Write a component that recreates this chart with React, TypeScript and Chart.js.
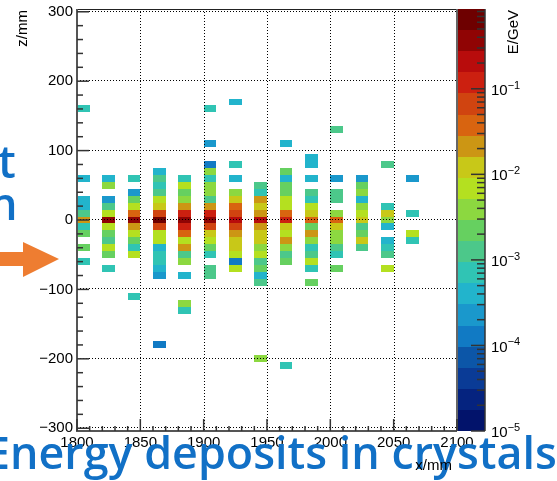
import React, { useEffect, useRef } from 'react';
import { Chart, registerables } from 'chart.js';

Chart.register(...registerables);

type Cell = [number, number]; // [z centre (mm), deposited energy (GeV)]

// crystal columns: x low edge (mm)
const columnX = [1800, 1820, 1840, 1860, 1880, 1900, 1920, 1940, 1960, 1980, 2000, 2020, 2040, 2060];

const col1800: Cell[] = [[160, 7.1e-4], [60, 4.0e-4], [30, 4.0e-4], [20, 4.0e-4], [10, 1.25e-3], [0, 2.1e-2], [-10, 7.1e-4], [-20, 2.2e-3], [-40, 2.2e-3], [-60, 7.1e-4]];
const col1820: Cell[] = [[60, 4.0e-4], [50, 3.9e-3], [30, 2.3e-4], [20, 1.25e-3], [10, 6.9e-3], [0, 0.37], [-10, 6.9e-3], [-20, 2.2e-3], [-30, 1.25e-3], [-40, 6.9e-3], [-50, 2.2e-3], [-70, 7.1e-4]];
const col1840: Cell[] = [[60, 7.1e-4], [40, 2.3e-4], [30, 2.2e-3], [20, 6.9e-3], [10, 3.8e-2], [0, 0.37], [-10, 2.1e-2], [-20, 6.9e-3], [-30, 2.2e-3], [-40, 7.1e-4], [-50, 6.9e-3], [-110, 7.1e-4]];
const col1860: Cell[] = [[70, 4.0e-4], [60, 1.25e-3], [50, 7.1e-4], [40, 1.25e-3], [30, 6.9e-3], [20, 1.2e-2], [10, 6.6e-2], [0, 0.65], [-10, 6.6e-2], [-20, 6.9e-3], [-30, 6.9e-3], [-40, 4.0e-4], [-50, 7.1e-4], [-60, 7.1e-4], [-70, 4.0e-4], [-80, 2.3e-4], [-180, 1.3e-4]];
const col1880: Cell[] = [[60, 7.1e-4], [50, 6.9e-3], [40, 2.2e-3], [30, 3.9e-3], [20, 2.1e-2], [10, 0.117], [0, 0.37], [-10, 0.117], [-20, 3.8e-2], [-30, 6.9e-3], [-40, 2.1e-2], [-50, 1.25e-3], [-60, 3.9e-3], [-80, 4.0e-4], [-120, 3.9e-3], [-130, 7.1e-4]];
const col1900: Cell[] = [[160, 7.1e-4], [110, 2.3e-4], [80, 1.3e-4], [70, 3.9e-3], [60, 7.1e-4], [50, 3.9e-3], [40, 3.9e-3], [30, 1.25e-3], [20, 2.1e-2], [10, 0.117], [0, 0.37], [-10, 6.6e-2], [-20, 1.2e-2], [-30, 6.9e-3], [-40, 2.2e-3], [-50, 7.1e-4], [-70, 1.25e-3], [-80, 1.25e-3]];
const col1920: Cell[] = [[170, 4.0e-4], [80, 7.1e-4], [60, 4.0e-4], [40, 3.9e-3], [30, 1.2e-2], [20, 3.8e-2], [10, 6.6e-2], [0, 0.21], [-10, 6.6e-2], [-20, 2.1e-2], [-30, 1.2e-2], [-40, 1.2e-2], [-50, 6.9e-3], [-60, 1.3e-4], [-70, 6.9e-3]];
const col1940: Cell[] = [[50, 1.25e-3], [40, 7.1e-4], [30, 2.1e-2], [20, 1.2e-2], [10, 2.1e-2], [0, 0.21], [-10, 2.1e-2], [-20, 1.2e-2], [-30, 1.2e-2], [-40, 3.9e-3], [-50, 6.9e-3], [-60, 1.25e-3], [-70, 2.2e-3], [-80, 4.0e-4], [-90, 1.25e-3], [-200, 3.9e-3]];
const col1960: Cell[] = [[110, 4.0e-4], [70, 2.2e-3], [60, 4.0e-4], [50, 2.2e-3], [40, 2.2e-3], [30, 6.9e-3], [20, 6.9e-3], [10, 3.8e-2], [0, 0.117], [-10, 1.2e-2], [-20, 6.9e-3], [-30, 2.1e-2], [-40, 3.9e-3], [-50, 1.25e-3], [-60, 2.2e-3], [-210, 7.1e-4]];
const col1980: Cell[] = [[90, 4.0e-4], [80, 4.0e-4], [60, 4.0e-4], [40, 1.25e-3], [30, 7.1e-4], [20, 6.9e-3], [10, 1.2e-2], [0, 3.8e-2], [-10, 2.2e-3], [-20, 2.1e-2], [-30, 3.9e-3], [-40, 7.1e-4], [-50, 1.25e-3], [-60, 6.9e-3], [-70, 7.1e-4], [-90, 2.2e-3]];
const col2000: Cell[] = [[130, 1.25e-3], [60, 2.3e-4], [40, 1.25e-3], [30, 1.25e-3], [10, 3.9e-3], [0, 3.8e-2], [-10, 1.2e-2], [-20, 3.9e-3], [-30, 3.9e-3], [-40, 1.25e-3], [-50, 7.1e-4], [-70, 2.2e-3]];
const col2020: Cell[] = [[60, 2.3e-4], [50, 2.2e-3], [40, 3.9e-3], [30, 4.0e-4], [20, 3.9e-3], [10, 6.9e-3], [0, 1.2e-2], [-10, 1.25e-3], [-20, 2.2e-3], [-30, 1.2e-2], [-40, 1.25e-3]];
const col2040: Cell[] = [[80, 1.25e-3], [20, 7.1e-4], [10, 1.2e-2], [0, 3.9e-3], [-10, 4.0e-4], [-30, 4.0e-4], [-40, 7.1e-4], [-50, 1.25e-3], [-70, 6.9e-3]];
const col2060: Cell[] = [[60, 2.3e-4], [10, 7.1e-4], [-20, 6.9e-3], [-30, 7.1e-4]];

const columnCells = [col1800, col1820, col1840, col1860, col1880, col1900, col1920, col1940, col1960, col1980, col2000, col2020, col2040, col2060];

const colorTickValues = [1e-5, 1e-4, 1e-3, 1e-2, 1e-1];
const colorTickExponents = ['\u22125', '\u22124', '\u22123', '\u22122', '\u22121'];

const X_MIN = 1800, X_MAX = 2100, Z_MIN = -304, Z_MAX = 304, E_MIN = 1e-5, E_MAX = 0.856;
const BIN_X = 10, BIN_Z = 10;

const PALETTE = ['#02136b', '#05237f', '#0a3b96', '#0c56a8', '#117ac4', '#1a98cc', '#22b4cc', '#30c4b4', '#4cc88a', '#66d060',
  '#8cd840', '#b4e020', '#c8c818', '#cc9614', '#d86410', '#d04410', '#cc2010', '#b80c0c', '#900404', '#6e0000'];

const TITLE = 'Energy deposits in crystals';
const BLUE = '#1170c6';
const ORANGE = '#ee7d31';
const FONT = "'Liberation Sans', Arial, sans-serif";
const OVER_FONT = "600 45px 'Open Sans', 'Noto Sans', sans-serif";

const fmtZ = (v: number) => (v < 0 ? '\u2212' + Math.abs(v) : String(v));

const heatmapPlugin = {
  id: 'heatmap',
  afterDatasetsDraw(chart: any) {
    const ctx: CanvasRenderingContext2D = chart.ctx;
    const a = chart.chartArea;
    const xs = chart.scales.x, ys = chart.scales.y, cs = chart.scales.c;
    const lmin = Math.log10(E_MIN), lmax = Math.log10(E_MAX);
    const n = PALETTE.length;
    const bandOf = (e: number) => Math.max(0, Math.min(n - 1, Math.floor(((Math.log10(e) - lmin) / (lmax - lmin)) * n)));
    const line = (x0: number, y0: number, x1: number, y1: number) => { ctx.beginPath(); ctx.moveTo(x0, y0); ctx.lineTo(x1, y1); ctx.stroke(); };

    ctx.save();
    // cells
    for (const p of chart.data.datasets[0].data) {
      const x0 = Math.round(xs.getPixelForValue(p.x));
      const x1 = Math.round(xs.getPixelForValue(p.x + BIN_X));
      const y0 = Math.round(ys.getPixelForValue(p.y + BIN_Z / 2));
      const y1 = Math.round(ys.getPixelForValue(p.y - BIN_Z / 2));
      ctx.fillStyle = PALETTE[bandOf(p.e)];
      ctx.fillRect(x0, y0, x1 - x0, y1 - y0);
    }

    // dotted grid
    ctx.strokeStyle = '#000';
    ctx.lineWidth = 1;
    ctx.setLineDash([1, 2]);
    ctx.beginPath();
    for (const t of xs.ticks) {
      if (t.value % 50 !== 0 || t.value <= X_MIN || t.value >= X_MAX) continue;
      const px = Math.round(xs.getPixelForValue(t.value)) + 0.5;
      ctx.moveTo(px, a.top); ctx.lineTo(px, a.bottom);
    }
    for (const t of ys.ticks) {
      if (t.value % 100 !== 0) continue;
      const py = Math.round(ys.getPixelForValue(t.value)) - 0.5;
      ctx.moveTo(a.left, py); ctx.lineTo(a.right, py);
    }
    ctx.stroke();
    ctx.setLineDash([]);

    // frame
    ctx.strokeStyle = '#222';
    ctx.lineWidth = 1.2;
    line(a.left, a.top + 0.5, a.right, a.top + 0.5);
    ctx.strokeStyle = '#666';
    ctx.lineWidth = 2;
    line(a.right, a.top, a.right, a.bottom);
    ctx.strokeStyle = '#555';
    line(a.left, a.top, a.left, a.bottom + 1);
    line(a.left, a.bottom, a.right, a.bottom);

    // inward ticks
    ctx.strokeStyle = '#333';
    ctx.lineWidth = 1.5;
    for (const t of ys.ticks) {
      const py = ys.getPixelForValue(t.value);
      line(a.left, py, a.left + (t.value % 100 === 0 ? 12 : 6), py);
    }
    for (const t of xs.ticks) {
      const px = xs.getPixelForValue(t.value);
      line(px, a.bottom, px, a.bottom - (t.value % 50 === 0 ? 12 : 5));
    }

    // colour bar
    const bx0 = a.right + 1, bx1 = a.right + 28;
    for (let k = 0; k < n; k++) {
      const lo = Math.pow(10, lmin + (k * (lmax - lmin)) / n);
      const hi = Math.pow(10, lmin + ((k + 1) * (lmax - lmin)) / n);
      const yT = Math.round(cs.getPixelForValue(hi));
      const yB = Math.round(cs.getPixelForValue(lo));
      ctx.fillStyle = PALETTE[k];
      ctx.fillRect(bx0, yT, bx1 - bx0, yB - yT);
    }
    ctx.strokeStyle = '#333';
    ctx.lineWidth = 1.5;
    line(bx1, a.top, bx1, cs.getPixelForValue(E_MIN));
    colorTickValues.forEach((v) => {
      const py = cs.getPixelForValue(v);
      line(bx1 - 14, py, bx1, py);
      for (let m = 2; m <= 9; m++) {
        const mv = v * m;
        if (mv > E_MAX) break;
        const my = cs.getPixelForValue(mv);
        line(bx1 - 8, my, bx1, my);
      }
    });
    ctx.fillStyle = '#000';
    ctx.textAlign = 'left';
    ctx.textBaseline = 'middle';
    colorTickValues.forEach((v, i) => {
      const py = cs.getPixelForValue(v);
      ctx.font = `15px ${FONT}`;
      ctx.fillText('10', bx1 + 6, py + 2);
      const w = ctx.measureText('10').width;
      ctx.font = `11px ${FONT}`;
      ctx.fillText(colorTickExponents[i], bx1 + 6 + w, py - 3);
    });

    // axis titles
    ctx.font = `15px ${FONT}`;
    ctx.fillStyle = '#000';
    ctx.save();
    ctx.translate(23, a.top + 1);
    ctx.rotate(-Math.PI / 2);
    ctx.textAlign = 'right';
    ctx.textBaseline = 'middle';
    ctx.fillText('z/mm', 0, 0);
    ctx.restore();
    ctx.save();
    ctx.translate(bx1 + 29, a.top + 1);
    ctx.rotate(-Math.PI / 2);
    ctx.textAlign = 'right';
    ctx.textBaseline = 'middle';
    ctx.fillText('E/GeV', 0, 0);
    ctx.restore();

    // slide overlay: blue caption text
    ctx.fillStyle = BLUE;
    ctx.font = OVER_FONT;
    ctx.textAlign = 'left';
    ctx.textBaseline = 'alphabetic';
    const full = ctx.measureText(TITLE);
    const wE = ctx.measureText('E').width;
    const nMeas = ctx.measureText('n');
    const nLeft = wE - nMeas.actualBoundingBoxLeft;
    const inkRight = full.actualBoundingBoxRight;
    const sx = (556 - 13) / (inkRight - nLeft);
    const x0 = 13 - sx * nLeft;
    ctx.save();
    ctx.translate(x0, 469);
    ctx.scale(sx, 1);
    ctx.fillText(TITLE, 0, 0);
    ctx.restore();
    const tM = ctx.measureText('t');
    ctx.fillText('t', 15 - tM.actualBoundingBoxRight, 178);
    ctx.fillText('n', 15 - nMeas.actualBoundingBoxRight, 220);

    // x axis title (on top)
    ctx.font = `15px ${FONT}`;
    ctx.fillStyle = '#000';
    ctx.textAlign = 'right';
    ctx.fillText('x/mm', 452, 470);

    // orange arrow
    ctx.fillStyle = ORANGE;
    ctx.beginPath();
    ctx.moveTo(-5, 252);
    ctx.lineTo(23, 252);
    ctx.lineTo(23, 242);
    ctx.lineTo(59, 259);
    ctx.lineTo(23, 277);
    ctx.lineTo(23, 266);
    ctx.lineTo(-5, 266);
    ctx.closePath();
    ctx.fill();

    ctx.restore();
  },
};

export default function App() {
  const ref = useRef<HTMLCanvasElement>(null);
  useEffect(() => {
    const canvas = ref.current!;
    const points = columnX.flatMap((x, i) => columnCells[i].map(([z, e]) => ({ x, y: z, e })));
    const zeroPad = (s: any) => { s.paddingTop = 0; s.paddingBottom = 0; s.paddingLeft = 0; s.paddingRight = 0; };
    const chart = new Chart(canvas, {
      type: 'scatter',
      data: { datasets: [{ data: points as any, pointRadius: 0, pointHoverRadius: 0, showLine: false }] },
      options: {
        animation: false,
        responsive: false,
        devicePixelRatio: 1,
        events: [],
        layout: { padding: { top: 9, right: 0, bottom: 0, left: 0 } },
        plugins: { legend: { display: false }, tooltip: { enabled: false } },
        scales: {
          x: {
            type: 'linear', min: X_MIN, max: X_MAX,
            grid: { display: false, drawTicks: false }, border: { display: false },
            ticks: {
              stepSize: 10, autoSkip: false, maxRotation: 0, padding: 3, color: '#000',
              font: { family: FONT, size: 15 },
              callback: (v: any) => (Number(v) % 50 === 0 ? String(v) : ''),
            },
            afterFit: (s: any) => { s.height = 50; zeroPad(s); },
          },
          y: {
            type: 'linear', min: Z_MIN, max: Z_MAX,
            grid: { display: false, drawTicks: false }, border: { display: false },
            ticks: {
              stepSize: 20, includeBounds: false, autoSkip: false, padding: 4, color: '#000',
              font: { family: FONT, size: 15 },
              callback: (v: any) => (Number(v) % 100 === 0 ? fmtZ(Number(v)) : ''),
            },
            afterFit: (s: any) => { s.width = 77; zeroPad(s); },
          },
          c: {
            type: 'logarithmic', position: 'right', min: E_MIN, max: E_MAX,
            grid: { display: false, drawTicks: false }, border: { display: false },
            ticks: { display: false },
            afterFit: (s: any) => { s.width = 100; zeroPad(s); },
          },
        },
      } as any,
      plugins: [heatmapPlugin],
    });
    return () => chart.destroy();
  }, []);
  return (
    <div style={{ position: 'absolute', left: 0, top: 0, width: 557, height: 481, background: '#fff' }}>
      <canvas ref={ref} width={557} height={481} style={{ display: 'block', width: 557, height: 481 }} />
    </div>
  );
}
